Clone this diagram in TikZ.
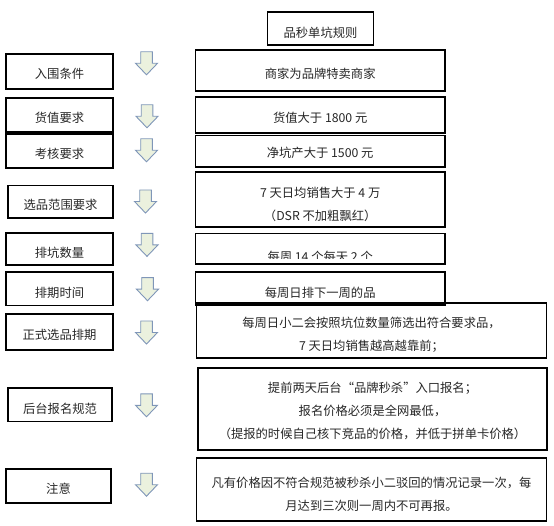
\documentclass[tikz,border=0pt]{standalone}
\usepackage{fontspec}
\setmainfont{Noto Sans CJK SC}
\definecolor{arrowfill}{HTML}{EBF1DE}
\definecolor{arrowline}{HTML}{7F96B8}
\tikzset{
  box/.style={draw=black, line width=1.8pt, inner sep=0pt, rectangle},
  txt/.style={font=\fontsize{12.3}{23}\selectfont, text=black!85, inner sep=0pt, align=center},
  downarr/.pic={\draw[arrowline, fill=arrowfill, line width=0.9pt, line join=miter]
     (-5.8,-11.5) -- (5.8,-11.5) -- (5.8,0) -- (11,0) -- (0,11.5) -- (-11,0) -- (-5.8,0) -- cycle;}
}
\begin{document}
\begin{tikzpicture}[x=1pt,y=-1pt]
\useasboundingbox (0,0) rectangle (554,526);

% title
\node[box, minimum width=106pt, minimum height=32.8pt] (title) at (320.5,28.8) {};
\node[txt] (titlet) at (320.5,32.9) {品秒单坑规则};

% left boxes
\node[box, minimum width=107pt, minimum height=35.4pt] (l1) at (59.5,71.7) {};
\node[box, minimum width=107pt, minimum height=33.9pt] (l2) at (59.5,114.9) {};
\node[box, minimum width=107pt, minimum height=33.6pt] (l3) at (59.5,151) {};
\node[box, minimum width=105pt, minimum height=32.8pt] (l4) at (60.5,201.9) {};
\node[box, minimum width=107pt, minimum height=32.1pt] (l5) at (59.5,249.3) {};
\node[box, minimum width=107pt, minimum height=33.2pt] (l6) at (59.5,289) {};
\node[box, minimum width=107pt, minimum height=36pt] (l7) at (59.5,332) {};
\node[box, minimum width=104pt, minimum height=33.4pt] (l8) at (60,404.7) {};
\node[box, minimum width=105pt, minimum height=33.7pt] (l9) at (58.5,485.9) {};

\node[txt] (l1t) at (59.5,74.2) {入围条件};
\node[txt] (l2t) at (59.5,117.7) {货值要求};
\node[txt] (l3t) at (59.5,154) {考核要求};
\node[txt] (l4t) at (60.5,205.3) {选品范围要求};
\node[txt] (l5t) at (59.5,253.2) {排坑数量};
\node[txt] (l6t) at (59.5,292.8) {排期时间};
\node[txt] (l7t) at (59.5,334.9) {正式选品排期};
\node[txt] (l8t) at (60,409) {后台报名规范};
\node[txt] (l9t) at (58.5,488.9) {注意};

% arrows
\pic (a1) at (146.5,63.3) {downarr};
\pic (a2) at (147,116.3) {downarr};
\pic (a3) at (146.5,150.3) {downarr};
\pic (a4) at (145.5,201.5) {downarr};
\pic (a5) at (147,244.9) {downarr};
\pic (a6) at (147.5,289.2) {downarr};
\pic (a7) at (146.5,332.5) {downarr};
\pic (a8) at (146.5,405.3) {downarr};
\pic (a9) at (146.5,484.7) {downarr};

% right boxes
\node[box, minimum width=249.5pt, minimum height=41pt] (r1) at (320.2,70.7) {};
\node[box, minimum width=249.5pt, minimum height=36pt] (r2) at (320.2,115) {};
\node[box, minimum width=249.5pt, minimum height=31.5pt] (r3) at (320.2,151.2) {};
\node[box, minimum width=249.5pt, minimum height=54.8pt] (r4) at (320.2,199.8) {};
\node[box, minimum width=249.5pt, minimum height=30.8pt] (r5) at (320.2,248.9) {};
\node[box, minimum width=249.5pt, minimum height=33pt] (r6) at (320.2,288.5) {};
\node[box, minimum width=350pt, minimum height=54.8pt] (r7) at (371.5,330.4) {};
\node[box, minimum width=349pt, minimum height=82pt] (r8) at (372.5,408.7) {};
\node[box, minimum width=350pt, minimum height=63pt] (r9) at (371.5,489.5) {};

\node[txt] (r1t) at (320.2,73.5) {商家为品牌特卖商家};
\node[txt] (r2t) at (320.2,117.7) {货值大于 1800 元};
\node[txt] (r3t) at (320.2,153) {净坑产大于 1500 元};
\node[txt] (r4t) at (320.2,204.7) {7 天日均销售大于 4 万\\（DSR 不加粗飘红）};
\begin{scope}
  \clip (197,235) rectangle (444,258.6);
  \node[txt] (r5t) at (320.2,256.4) {每周 14 个每天 2 个};
\end{scope}
\node[txt] (r6t) at (320.2,292.5) {每周日排下一周的品};
\node[txt] (r7t) at (371.5,335) {每周日小二会按照坑位数量筛选出符合要求品，\\7 天日均销售越高越靠前；};
\node[txt] (r8t) at (372.5,410.5) {提前两天后台“品牌秒杀”入口报名；\\报名价格必须是全网最低，\\（提报的时候自己核下竞品的价格，并低于拼单卡价格）};
\node[txt] (r9t) at (371.5,494.5) {凡有价格因不符合规范被秒杀小二驳回的情况记录一次，每\\月达到三次则一周内不可再报。};
\end{tikzpicture}
\end{document}
